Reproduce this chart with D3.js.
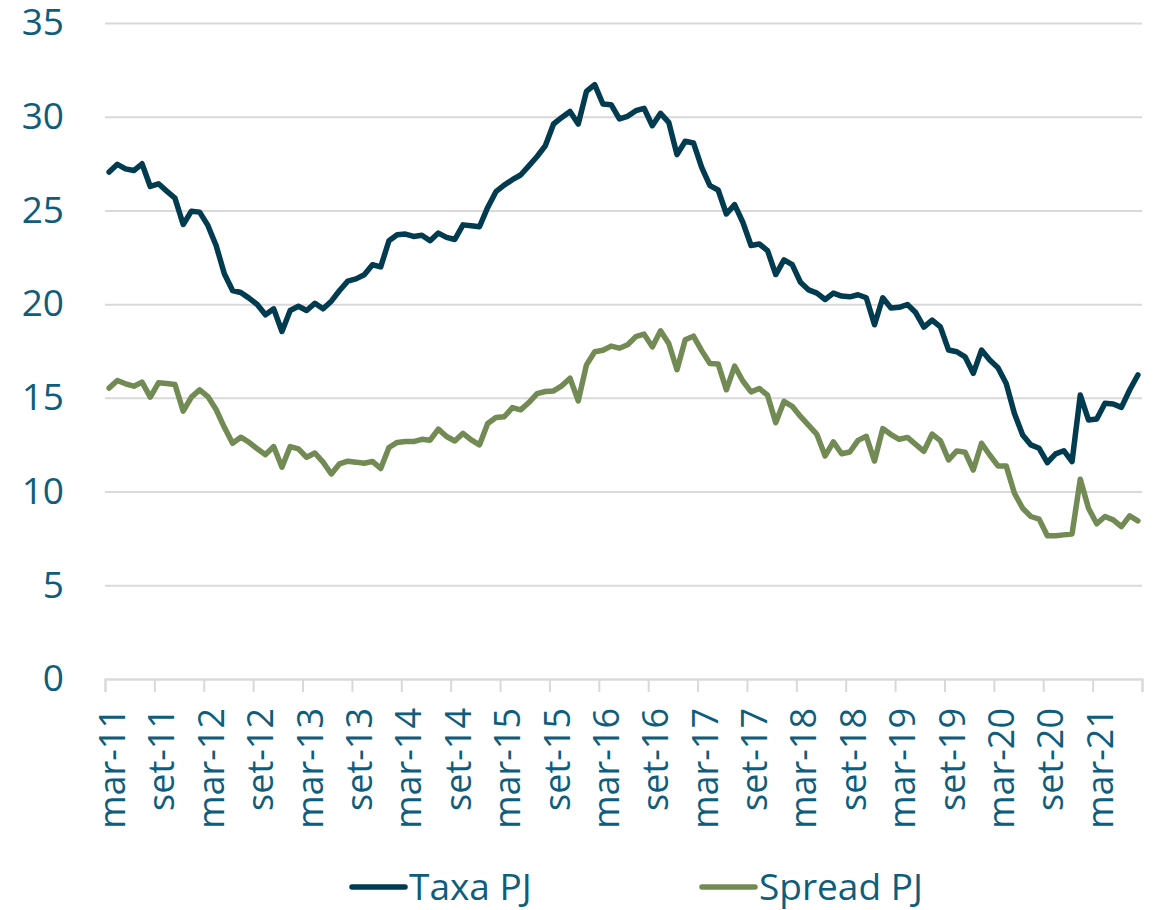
<!DOCTYPE html>
<html>
<head>
<meta charset="utf-8">
<script src="https://cdn.jsdelivr.net/npm/d3@7"></script>
<style>
  body { margin: 0; background: #fff; }
  text { font-family: "Open Sans", sans-serif; }
</style>
</head>
<body>
<script>
// month names (pt) used to build the monthly categories mar-11 .. ago-21
const monthNames = ["jan","fev","mar","abr","mai","jun","jul","ago","set","out","nov","dez"];
const months = [];
for (let k = 0; k < 126; k++) {
    const m = (2 + k) % 12;
    const yr = 11 + Math.floor((2 + k) / 12);
    months.push(monthNames[m] + "-" + yr);
}

// tick labels shown on the x axis (every 6 months)
const tickLabels = ["mar-11","set-11","mar-12","set-12","mar-13","set-13","mar-14","set-14",
    "mar-15","set-15","mar-16","set-16","mar-17","set-17","mar-18","set-18",
    "mar-19","set-19","mar-20","set-20","mar-21"];
const yTicks = [0, 5, 10, 15, 20, 25, 30, 35];

// Taxa PJ (% a.a.)
const taxaPJ = [
    27.05, 27.46, 27.22, 27.13, 27.49, 26.28, 26.42, 26.03, 25.66, 24.25,
    24.96, 24.91, 24.20, 23.13, 21.62, 20.73, 20.62, 20.32, 19.98, 19.43,
    19.75, 18.54, 19.66, 19.89, 19.66, 20.05, 19.75, 20.16, 20.73, 21.23,
    21.35, 21.57, 22.10, 21.99, 23.38, 23.70, 23.74, 23.61, 23.68, 23.38,
    23.79, 23.56, 23.45, 24.23, 24.18, 24.13, 25.16, 26.00, 26.35, 26.64,
    26.89, 27.38, 27.88, 28.45, 29.61, 29.96, 30.28, 29.61, 31.35, 31.71,
    30.68, 30.64, 29.88, 30.02, 30.32, 30.45, 29.52, 30.18, 29.70, 27.98,
    28.69, 28.60, 27.30, 26.32, 26.09, 24.81, 25.31, 24.37, 23.13, 23.21,
    22.86, 21.58, 22.36, 22.11, 21.17, 20.76, 20.59, 20.25, 20.59, 20.43,
    20.39, 20.50, 20.34, 18.90, 20.34, 19.80, 19.83, 19.98, 19.55, 18.77,
    19.15, 18.79, 17.55, 17.46, 17.19, 16.31, 17.55, 17.02, 16.61, 15.77,
    14.17, 13.02, 12.49, 12.31, 11.55, 12.01, 12.18, 11.60, 15.15, 13.82,
    13.87, 14.71, 14.67, 14.49, 15.42, 16.22
];

// Spread PJ (p.p.)
const spreadPJ = [
    15.52, 15.93, 15.75, 15.62, 15.84, 15.04, 15.80, 15.77, 15.71, 14.29,
    15.04, 15.43, 15.07, 14.38, 13.43, 12.58, 12.90, 12.63, 12.28, 11.97,
    12.40, 11.30, 12.40, 12.28, 11.83, 12.06, 11.57, 10.94, 11.48, 11.62,
    11.57, 11.51, 11.61, 11.23, 12.35, 12.62, 12.67, 12.67, 12.79, 12.74,
    13.33, 12.94, 12.70, 13.11, 12.76, 12.49, 13.63, 13.95, 13.99, 14.48,
    14.36, 14.75, 15.23, 15.34, 15.37, 15.64, 16.05, 14.84, 16.76, 17.46,
    17.54, 17.76, 17.65, 17.83, 18.27, 18.40, 17.72, 18.58, 17.90, 16.50,
    18.10, 18.29, 17.52, 16.83, 16.81, 15.43, 16.69, 15.90, 15.32, 15.50,
    15.14, 13.68, 14.81, 14.55, 14.01, 13.53, 13.05, 11.90, 12.65, 12.02,
    12.11, 12.73, 12.95, 11.63, 13.36, 13.04, 12.79, 12.89, 12.52, 12.15,
    13.07, 12.72, 11.69, 12.17, 12.10, 11.15, 12.58, 11.95, 11.37, 11.37,
    9.91, 9.11, 8.67, 8.53, 7.64, 7.64, 7.69, 7.74, 10.66, 9.11,
    8.28, 8.67, 8.49, 8.13, 8.70, 8.44
];

const seriesNames = ["Taxa PJ", "Spread PJ"];
const seriesColors = ["#003b50", "#728a53"];

const width = 1155;
const height = 910;
const margin = {top: 23, right: 13, bottom: 231, left: 105};
const textColor = "#0e5d7c";
const gridColor = "#d9d9d9";

var svg = d3.select("body").append("svg")
    .attr("width", width)
    .attr("height", height);

var x = d3.scaleBand()
    .domain(months)
    .range([margin.left, width - margin.right])
    .padding(0);

// linear helper for the tick marks at the slot edges
var xEdge = d3.scaleLinear()
    .domain([0, months.length])
    .range([margin.left, width - margin.right]);

var y = d3.scaleLinear()
    .domain([0, 35])
    .range([height - margin.bottom, margin.top]);

// gridlines + y labels
var yaxis = d3.axisLeft(y)
    .tickValues(yTicks)
    .tickSize(-(width - margin.left - margin.right))
    .tickPadding(41);

var gy = svg.append("g")
    .attr("transform", `translate(${margin.left},0)`)
    .call(yaxis);
gy.select(".domain").remove();
gy.selectAll(".tick line")
    .attr("stroke", gridColor)
    .attr("stroke-width", 2);
gy.selectAll(".tick text")
    .attr("fill", textColor)
    .attr("font-size", 37);

// bottom tick marks
var xaxis = d3.axisBottom(xEdge)
    .tickValues(d3.range(0, months.length + 1, 6))
    .tickSize(13)
    .tickFormat("");

var gx = svg.append("g")
    .attr("transform", `translate(0,${height - margin.bottom})`)
    .call(xaxis);
gx.select(".domain").attr("stroke", gridColor).attr("stroke-width", 2);
gx.selectAll(".tick line").attr("stroke", gridColor).attr("stroke-width", 2);

// rotated month labels
svg.append("g").selectAll("text")
    .data(tickLabels)
    .enter()
    .append("text")
    .attr("transform", d => `translate(${x(d) + x.bandwidth() / 2 + 3}, ${height - margin.bottom + 29}) rotate(-90)`)
    .attr("text-anchor", "end")
    .attr("dy", "0.36em")
    .attr("fill", textColor)
    .attr("font-size", 36)
    .text(d => d);

// lines
var line = d3.line()
    .x((d, i) => x(months[i]) + x.bandwidth() / 2)
    .y(d => y(d));

[taxaPJ, spreadPJ].forEach((s, k) => {
    svg.append("path")
        .datum(s)
        .attr("fill", "none")
        .attr("stroke", seriesColors[k])
        .attr("stroke-width", 5.5)
        .attr("stroke-linejoin", "round")
        .attr("stroke-linecap", "round")
        .attr("d", line);
});

// legend
const legendX = [352, 702];
var legend = svg.append("g").selectAll("g")
    .data(seriesNames)
    .enter()
    .append("g")
    .attr("transform", (d, i) => `translate(${legendX[i]}, 887)`);

legend.append("line")
    .attr("x1", 0).attr("x2", 53)
    .attr("stroke", (d, i) => seriesColors[i])
    .attr("stroke-width", 5.5)
    .attr("stroke-linecap", "round");

legend.append("text")
    .attr("x", 57)
    .attr("dy", "0.36em")
    .attr("fill", textColor)
    .attr("font-size", 37)
    .text(d => d);
</script>
</body>
</html>
